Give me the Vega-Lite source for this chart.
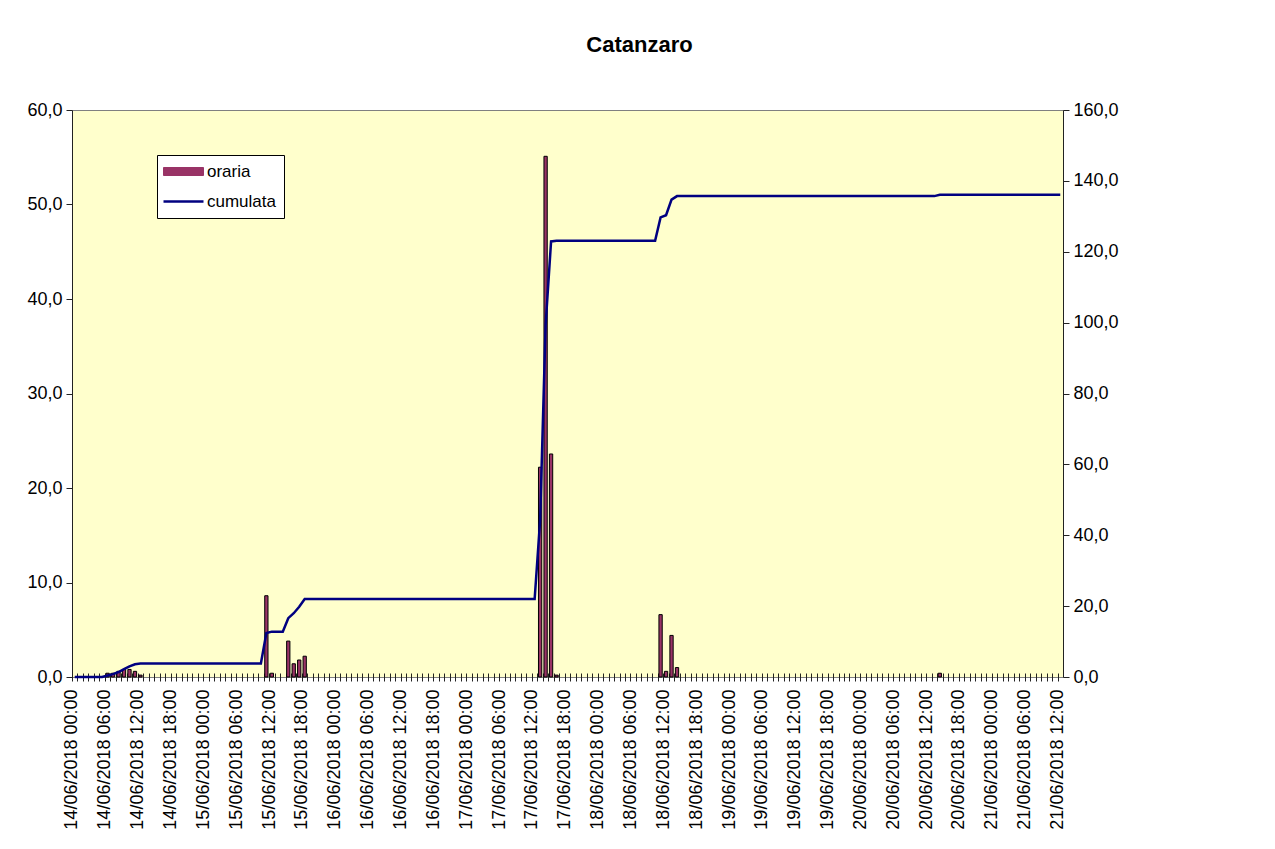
{
  "$schema": "https://vega.github.io/schema/vega-lite/v6.json",
  "autosize": {"type": "none"},
  "padding": {"left": 72, "top": 110, "right": 212, "bottom": 172},
  "width": 991,
  "height": 567,
  "background": "white",
  "title": {"text": "Catanzaro", "fontSize": 22, "font": "Liberation Sans", "fontWeight": "bold", "color": "black", "anchor": "middle", "offset": 44, "dx": 72},
  "config": {
    "view": {"fill": "#FFFFCC", "stroke": "#808080", "strokeWidth": 1},
    "axis": {"labelFont": "Liberation Sans", "labelFontSize": 18, "labelColor": "black", "domainColor": "#222222", "tickColor": "#222222", "grid": false, "title": null},
    "legend": {
      "title": null, "orient": "none", "legendX": 85, "legendY": 45,
      "fillColor": "white", "strokeColor": "black", "padding": 8,
      "symbolSize": 400, "rowPadding": 12, "labelOffset": 25,
      "labelFont": "Liberation Sans", "labelFontSize": 17, "labelColor": "black"
    }
  },
  "data": {"values": [
    {"t":"14/06/2018 00:00","oraria":0,"cumulata":0},
    {"t":"14/06/2018 01:00","oraria":0,"cumulata":0},
    {"t":"14/06/2018 02:00","oraria":0,"cumulata":0},
    {"t":"14/06/2018 03:00","oraria":0,"cumulata":0},
    {"t":"14/06/2018 04:00","oraria":0,"cumulata":0},
    {"t":"14/06/2018 05:00","oraria":0,"cumulata":0},
    {"t":"14/06/2018 06:00","oraria":0.4,"cumulata":0.4},
    {"t":"14/06/2018 07:00","oraria":0.4,"cumulata":0.8},
    {"t":"14/06/2018 08:00","oraria":0.6,"cumulata":1.4},
    {"t":"14/06/2018 09:00","oraria":0.8,"cumulata":2.2},
    {"t":"14/06/2018 10:00","oraria":0.8,"cumulata":3.0},
    {"t":"14/06/2018 11:00","oraria":0.6,"cumulata":3.6},
    {"t":"14/06/2018 12:00","oraria":0.2,"cumulata":3.8},
    {"t":"14/06/2018 13:00","oraria":0,"cumulata":3.8},
    {"t":"14/06/2018 14:00","oraria":0,"cumulata":3.8},
    {"t":"14/06/2018 15:00","oraria":0,"cumulata":3.8},
    {"t":"14/06/2018 16:00","oraria":0,"cumulata":3.8},
    {"t":"14/06/2018 17:00","oraria":0,"cumulata":3.8},
    {"t":"14/06/2018 18:00","oraria":0,"cumulata":3.8},
    {"t":"14/06/2018 19:00","oraria":0,"cumulata":3.8},
    {"t":"14/06/2018 20:00","oraria":0,"cumulata":3.8},
    {"t":"14/06/2018 21:00","oraria":0,"cumulata":3.8},
    {"t":"14/06/2018 22:00","oraria":0,"cumulata":3.8},
    {"t":"14/06/2018 23:00","oraria":0,"cumulata":3.8},
    {"t":"15/06/2018 00:00","oraria":0,"cumulata":3.8},
    {"t":"15/06/2018 01:00","oraria":0,"cumulata":3.8},
    {"t":"15/06/2018 02:00","oraria":0,"cumulata":3.8},
    {"t":"15/06/2018 03:00","oraria":0,"cumulata":3.8},
    {"t":"15/06/2018 04:00","oraria":0,"cumulata":3.8},
    {"t":"15/06/2018 05:00","oraria":0,"cumulata":3.8},
    {"t":"15/06/2018 06:00","oraria":0,"cumulata":3.8},
    {"t":"15/06/2018 07:00","oraria":0,"cumulata":3.8},
    {"t":"15/06/2018 08:00","oraria":0,"cumulata":3.8},
    {"t":"15/06/2018 09:00","oraria":0,"cumulata":3.8},
    {"t":"15/06/2018 10:00","oraria":0,"cumulata":3.8},
    {"t":"15/06/2018 11:00","oraria":8.6,"cumulata":12.4},
    {"t":"15/06/2018 12:00","oraria":0.4,"cumulata":12.8},
    {"t":"15/06/2018 13:00","oraria":0,"cumulata":12.8},
    {"t":"15/06/2018 14:00","oraria":0,"cumulata":12.8},
    {"t":"15/06/2018 15:00","oraria":3.8,"cumulata":16.6},
    {"t":"15/06/2018 16:00","oraria":1.4,"cumulata":18.0},
    {"t":"15/06/2018 17:00","oraria":1.8,"cumulata":19.8},
    {"t":"15/06/2018 18:00","oraria":2.2,"cumulata":22.0},
    {"t":"15/06/2018 19:00","oraria":0,"cumulata":22.0},
    {"t":"15/06/2018 20:00","oraria":0,"cumulata":22.0},
    {"t":"15/06/2018 21:00","oraria":0,"cumulata":22.0},
    {"t":"15/06/2018 22:00","oraria":0,"cumulata":22.0},
    {"t":"15/06/2018 23:00","oraria":0,"cumulata":22.0},
    {"t":"16/06/2018 00:00","oraria":0,"cumulata":22.0},
    {"t":"16/06/2018 01:00","oraria":0,"cumulata":22.0},
    {"t":"16/06/2018 02:00","oraria":0,"cumulata":22.0},
    {"t":"16/06/2018 03:00","oraria":0,"cumulata":22.0},
    {"t":"16/06/2018 04:00","oraria":0,"cumulata":22.0},
    {"t":"16/06/2018 05:00","oraria":0,"cumulata":22.0},
    {"t":"16/06/2018 06:00","oraria":0,"cumulata":22.0},
    {"t":"16/06/2018 07:00","oraria":0,"cumulata":22.0},
    {"t":"16/06/2018 08:00","oraria":0,"cumulata":22.0},
    {"t":"16/06/2018 09:00","oraria":0,"cumulata":22.0},
    {"t":"16/06/2018 10:00","oraria":0,"cumulata":22.0},
    {"t":"16/06/2018 11:00","oraria":0,"cumulata":22.0},
    {"t":"16/06/2018 12:00","oraria":0,"cumulata":22.0},
    {"t":"16/06/2018 13:00","oraria":0,"cumulata":22.0},
    {"t":"16/06/2018 14:00","oraria":0,"cumulata":22.0},
    {"t":"16/06/2018 15:00","oraria":0,"cumulata":22.0},
    {"t":"16/06/2018 16:00","oraria":0,"cumulata":22.0},
    {"t":"16/06/2018 17:00","oraria":0,"cumulata":22.0},
    {"t":"16/06/2018 18:00","oraria":0,"cumulata":22.0},
    {"t":"16/06/2018 19:00","oraria":0,"cumulata":22.0},
    {"t":"16/06/2018 20:00","oraria":0,"cumulata":22.0},
    {"t":"16/06/2018 21:00","oraria":0,"cumulata":22.0},
    {"t":"16/06/2018 22:00","oraria":0,"cumulata":22.0},
    {"t":"16/06/2018 23:00","oraria":0,"cumulata":22.0},
    {"t":"17/06/2018 00:00","oraria":0,"cumulata":22.0},
    {"t":"17/06/2018 01:00","oraria":0,"cumulata":22.0},
    {"t":"17/06/2018 02:00","oraria":0,"cumulata":22.0},
    {"t":"17/06/2018 03:00","oraria":0,"cumulata":22.0},
    {"t":"17/06/2018 04:00","oraria":0,"cumulata":22.0},
    {"t":"17/06/2018 05:00","oraria":0,"cumulata":22.0},
    {"t":"17/06/2018 06:00","oraria":0,"cumulata":22.0},
    {"t":"17/06/2018 07:00","oraria":0,"cumulata":22.0},
    {"t":"17/06/2018 08:00","oraria":0,"cumulata":22.0},
    {"t":"17/06/2018 09:00","oraria":0,"cumulata":22.0},
    {"t":"17/06/2018 10:00","oraria":0,"cumulata":22.0},
    {"t":"17/06/2018 11:00","oraria":0,"cumulata":22.0},
    {"t":"17/06/2018 12:00","oraria":0,"cumulata":22.0},
    {"t":"17/06/2018 13:00","oraria":22.2,"cumulata":44.2},
    {"t":"17/06/2018 14:00","oraria":55.1,"cumulata":99.3},
    {"t":"17/06/2018 15:00","oraria":23.6,"cumulata":122.9},
    {"t":"17/06/2018 16:00","oraria":0.2,"cumulata":123.1},
    {"t":"17/06/2018 17:00","oraria":0,"cumulata":123.1},
    {"t":"17/06/2018 18:00","oraria":0,"cumulata":123.1},
    {"t":"17/06/2018 19:00","oraria":0,"cumulata":123.1},
    {"t":"17/06/2018 20:00","oraria":0,"cumulata":123.1},
    {"t":"17/06/2018 21:00","oraria":0,"cumulata":123.1},
    {"t":"17/06/2018 22:00","oraria":0,"cumulata":123.1},
    {"t":"17/06/2018 23:00","oraria":0,"cumulata":123.1},
    {"t":"18/06/2018 00:00","oraria":0,"cumulata":123.1},
    {"t":"18/06/2018 01:00","oraria":0,"cumulata":123.1},
    {"t":"18/06/2018 02:00","oraria":0,"cumulata":123.1},
    {"t":"18/06/2018 03:00","oraria":0,"cumulata":123.1},
    {"t":"18/06/2018 04:00","oraria":0,"cumulata":123.1},
    {"t":"18/06/2018 05:00","oraria":0,"cumulata":123.1},
    {"t":"18/06/2018 06:00","oraria":0,"cumulata":123.1},
    {"t":"18/06/2018 07:00","oraria":0,"cumulata":123.1},
    {"t":"18/06/2018 08:00","oraria":0,"cumulata":123.1},
    {"t":"18/06/2018 09:00","oraria":0,"cumulata":123.1},
    {"t":"18/06/2018 10:00","oraria":0,"cumulata":123.1},
    {"t":"18/06/2018 11:00","oraria":6.6,"cumulata":129.7},
    {"t":"18/06/2018 12:00","oraria":0.6,"cumulata":130.3},
    {"t":"18/06/2018 13:00","oraria":4.4,"cumulata":134.7},
    {"t":"18/06/2018 14:00","oraria":1.0,"cumulata":135.7},
    {"t":"18/06/2018 15:00","oraria":0,"cumulata":135.7},
    {"t":"18/06/2018 16:00","oraria":0,"cumulata":135.7},
    {"t":"18/06/2018 17:00","oraria":0,"cumulata":135.7},
    {"t":"18/06/2018 18:00","oraria":0,"cumulata":135.7},
    {"t":"18/06/2018 19:00","oraria":0,"cumulata":135.7},
    {"t":"18/06/2018 20:00","oraria":0,"cumulata":135.7},
    {"t":"18/06/2018 21:00","oraria":0,"cumulata":135.7},
    {"t":"18/06/2018 22:00","oraria":0,"cumulata":135.7},
    {"t":"18/06/2018 23:00","oraria":0,"cumulata":135.7},
    {"t":"19/06/2018 00:00","oraria":0,"cumulata":135.7},
    {"t":"19/06/2018 01:00","oraria":0,"cumulata":135.7},
    {"t":"19/06/2018 02:00","oraria":0,"cumulata":135.7},
    {"t":"19/06/2018 03:00","oraria":0,"cumulata":135.7},
    {"t":"19/06/2018 04:00","oraria":0,"cumulata":135.7},
    {"t":"19/06/2018 05:00","oraria":0,"cumulata":135.7},
    {"t":"19/06/2018 06:00","oraria":0,"cumulata":135.7},
    {"t":"19/06/2018 07:00","oraria":0,"cumulata":135.7},
    {"t":"19/06/2018 08:00","oraria":0,"cumulata":135.7},
    {"t":"19/06/2018 09:00","oraria":0,"cumulata":135.7},
    {"t":"19/06/2018 10:00","oraria":0,"cumulata":135.7},
    {"t":"19/06/2018 11:00","oraria":0,"cumulata":135.7},
    {"t":"19/06/2018 12:00","oraria":0,"cumulata":135.7},
    {"t":"19/06/2018 13:00","oraria":0,"cumulata":135.7},
    {"t":"19/06/2018 14:00","oraria":0,"cumulata":135.7},
    {"t":"19/06/2018 15:00","oraria":0,"cumulata":135.7},
    {"t":"19/06/2018 16:00","oraria":0,"cumulata":135.7},
    {"t":"19/06/2018 17:00","oraria":0,"cumulata":135.7},
    {"t":"19/06/2018 18:00","oraria":0,"cumulata":135.7},
    {"t":"19/06/2018 19:00","oraria":0,"cumulata":135.7},
    {"t":"19/06/2018 20:00","oraria":0,"cumulata":135.7},
    {"t":"19/06/2018 21:00","oraria":0,"cumulata":135.7},
    {"t":"19/06/2018 22:00","oraria":0,"cumulata":135.7},
    {"t":"19/06/2018 23:00","oraria":0,"cumulata":135.7},
    {"t":"20/06/2018 00:00","oraria":0,"cumulata":135.7},
    {"t":"20/06/2018 01:00","oraria":0,"cumulata":135.7},
    {"t":"20/06/2018 02:00","oraria":0,"cumulata":135.7},
    {"t":"20/06/2018 03:00","oraria":0,"cumulata":135.7},
    {"t":"20/06/2018 04:00","oraria":0,"cumulata":135.7},
    {"t":"20/06/2018 05:00","oraria":0,"cumulata":135.7},
    {"t":"20/06/2018 06:00","oraria":0,"cumulata":135.7},
    {"t":"20/06/2018 07:00","oraria":0,"cumulata":135.7},
    {"t":"20/06/2018 08:00","oraria":0,"cumulata":135.7},
    {"t":"20/06/2018 09:00","oraria":0,"cumulata":135.7},
    {"t":"20/06/2018 10:00","oraria":0,"cumulata":135.7},
    {"t":"20/06/2018 11:00","oraria":0,"cumulata":135.7},
    {"t":"20/06/2018 12:00","oraria":0,"cumulata":135.7},
    {"t":"20/06/2018 13:00","oraria":0,"cumulata":135.7},
    {"t":"20/06/2018 14:00","oraria":0.4,"cumulata":136.1},
    {"t":"20/06/2018 15:00","oraria":0,"cumulata":136.1},
    {"t":"20/06/2018 16:00","oraria":0,"cumulata":136.1},
    {"t":"20/06/2018 17:00","oraria":0,"cumulata":136.1},
    {"t":"20/06/2018 18:00","oraria":0,"cumulata":136.1},
    {"t":"20/06/2018 19:00","oraria":0,"cumulata":136.1},
    {"t":"20/06/2018 20:00","oraria":0,"cumulata":136.1},
    {"t":"20/06/2018 21:00","oraria":0,"cumulata":136.1},
    {"t":"20/06/2018 22:00","oraria":0,"cumulata":136.1},
    {"t":"20/06/2018 23:00","oraria":0,"cumulata":136.1},
    {"t":"21/06/2018 00:00","oraria":0,"cumulata":136.1},
    {"t":"21/06/2018 01:00","oraria":0,"cumulata":136.1},
    {"t":"21/06/2018 02:00","oraria":0,"cumulata":136.1},
    {"t":"21/06/2018 03:00","oraria":0,"cumulata":136.1},
    {"t":"21/06/2018 04:00","oraria":0,"cumulata":136.1},
    {"t":"21/06/2018 05:00","oraria":0,"cumulata":136.1},
    {"t":"21/06/2018 06:00","oraria":0,"cumulata":136.1},
    {"t":"21/06/2018 07:00","oraria":0,"cumulata":136.1},
    {"t":"21/06/2018 08:00","oraria":0,"cumulata":136.1},
    {"t":"21/06/2018 09:00","oraria":0,"cumulata":136.1},
    {"t":"21/06/2018 10:00","oraria":0,"cumulata":136.1},
    {"t":"21/06/2018 11:00","oraria":0,"cumulata":136.1},
    {"t":"21/06/2018 12:00","oraria":0,"cumulata":136.1}
  ]},
  "encoding": {
    "x": {
      "field": "t", "type": "ordinal", "sort": "ascending",
      "scale": {"type": "band", "paddingInner": 0.4, "paddingOuter": 0.2},
      "axis": {
        "labelAngle": -90, "labelOverlap": false, "domain": false, "offset": -4, "tickSize": 8, "tickOffset": -2.74,
        "labelPadding": 8,
        "labelExpr": "toNumber(substring(datum.label, 11, 13)) % 6 == 0 ? datum.label : ''"
      }
    }
  },
  "layer": [
    {
      "transform": [{"filter": "datum.oraria > 0"}],
      "mark": {"type": "bar", "stroke": "black", "strokeWidth": 1},
      "encoding": {
        "y": {"field": "oraria", "type": "quantitative", "scale": {"domain": [0, 60], "nice": false},
          "axis": {"orient": "left", "values": [0, 10, 20, 30, 40, 50, 60], "tickSize": 6, "labelPadding": 4,
            "labelExpr": "replace(format(datum.value, '.1f'), '.', ',')"}},
        "color": {"datum": "oraria", "type": "nominal",
          "scale": {"domain": ["oraria", "cumulata"], "range": ["#993366", "#000080"]},
          "legend": {
            "encode": {"symbols": {"update": {
              "shape": {"signal": "datum.value === 'oraria' ? 'M-1,-0.4H3V0.4H-1Z' : 'M-1,0H3'"},
              "fill": {"signal": "datum.value === 'oraria' ? '#993366' : 'transparent'"},
              "stroke": {"signal": "datum.value === 'oraria' ? 'black' : '#000080'"},
              "strokeWidth": {"signal": "datum.value === 'oraria' ? 1 : 2.5"}
            }}}
          }}
      }
    },
    {
      "mark": {"type": "rule", "color": "#222222", "strokeWidth": 1},
      "encoding": {
        "y": {"datum": 0, "type": "quantitative", "scale": {"domain": [0, 60], "nice": false}, "axis": null}
      }
    },
    {
      "mark": {"type": "line", "strokeWidth": 2.5},
      "encoding": {
        "y": {"field": "cumulata", "type": "quantitative", "scale": {"domain": [0, 160], "nice": false},
          "axis": {"orient": "right", "values": [0, 20, 40, 60, 80, 100, 120, 140, 160], "tickSize": 6, "labelPadding": 4,
            "labelExpr": "replace(format(datum.value, '.1f'), '.', ',')"}},
        "color": {"datum": "cumulata", "type": "nominal",
          "legend": {
            "encode": {"symbols": {"update": {
              "shape": {"signal": "datum.value === 'oraria' ? 'M-1,-0.4H3V0.4H-1Z' : 'M-1,0H3'"},
              "fill": {"signal": "datum.value === 'oraria' ? '#993366' : 'transparent'"},
              "stroke": {"signal": "datum.value === 'oraria' ? 'black' : '#000080'"},
              "strokeWidth": {"signal": "datum.value === 'oraria' ? 1 : 2.5"}
            }}}
          }}
      }
    }
  ],
  "resolve": {"scale": {"y": "independent"}}
}
